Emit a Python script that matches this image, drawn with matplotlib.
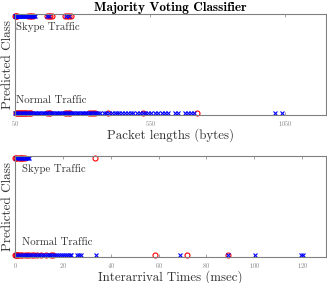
import matplotlib
matplotlib.use("Agg")
import matplotlib.pyplot as plt

plt.rcParams['font.family'] = 'serif'
plt.rcParams['font.serif'] = ['cmr10']
plt.rcParams['axes.formatter.use_mathtext'] = True

# Packet lengths (bytes), y = 1 Skype, y = 0 Normal
len_skype_o = [50, 52, 55, 58, 98, 104, 110, 116, 168, 174, 180, 186, 236, 242, 250, 258]
len_skype_x = [50, 52, 54, 56, 58, 60, 62, 64, 66, 68, 70, 72, 74, 76, 78, 80, 84, 88,
               92, 96, 100, 104, 108, 112, 116, 120, 124, 170, 176, 240, 248]
len_normal_o = [52, 56, 60, 64, 68, 72, 76, 80, 84, 88, 92, 96, 100, 104, 108, 168, 174,
                180, 236, 242, 248, 254, 322, 330, 338, 346, 395, 524, 724]
len_normal_x = [50, 56, 62, 68, 74, 80, 86, 92, 98, 104, 110, 116, 122, 128, 134, 140,
                146, 152, 158, 164, 170, 176, 182, 188, 194, 200, 206, 212, 218, 224,
                230, 236, 242, 248, 254, 260, 266, 272, 278, 284, 290, 296, 302, 308,
                314, 320, 326, 332, 338, 344, 350, 356, 365, 380, 388, 396, 409, 418,
                426, 436, 446, 456, 466, 478, 487, 502, 512, 522, 532, 542, 554, 566,
                580, 592, 604, 617, 643, 653, 680, 690, 700, 710, 1013, 1039]

# Interarrival times (msec)
iat_skype_o = [0, 0.5, 1, 1.5, 2, 2.5, 3, 3.5, 4, 33.3]
iat_skype_x = [0.5, 1, 1.5, 2, 2.5, 3, 3.5, 4, 4.5, 5, 5.5, 6]
iat_normal_o = [0, 0.3, 0.6, 1, 1.4, 1.8, 2.5, 3, 4, 5, 6, 7, 8, 9, 11, 13, 15, 16,
                58.5, 72, 89]
iat_normal_x = [0.5, 1.2, 2, 2.8, 3.6, 4.4, 5.2, 6, 6.8, 7.6, 8.4, 9.2, 10, 10.8, 11.6,
                12.4, 13.2, 14, 14.8, 15.6, 16.4, 17.2, 18, 18.8, 19.6, 20.4, 21.2, 22,
                22.8, 23.5, 25.8, 26.6, 27.5, 34, 69, 89, 100.4, 119.6, 120.2]

len_ticks = [50, 550, 1050]
iat_ticks = [0, 20, 40, 60, 80, 100, 120]

gray = '#808080'
txt = '#333333'

fig = plt.figure(figsize=(3.27, 2.83), dpi=100)
ax1 = fig.add_axes([0.046, 0.594, 0.951, 0.357])
ax2 = fig.add_axes([0.046, 0.092, 0.951, 0.358])


def draw(ax, sk_o, sk_x, no_o, no_x, xlim, ticks, xlabel, tx):
    ax.plot(sk_o, [1] * len(sk_o), 'o', color='red', mfc='none', ms=3.6, mew=0.8, clip_on=False)
    ax.plot(no_o, [0] * len(no_o), 'o', color='red', mfc='none', ms=3.6, mew=0.8, clip_on=False)
    ax.plot(sk_x, [1] * len(sk_x), 'x', color='blue', ms=3.2, mew=0.8, clip_on=False)
    ax.plot(no_x, [0] * len(no_x), 'x', color='blue', ms=3.2, mew=0.8, clip_on=False)
    ax.set_xlim(xlim)
    ax.set_ylim(-0.02, 1.02)
    ax.set_xticks(ticks)
    ax.set_yticks([])
    ax.tick_params(axis='x', direction='in', length=2, width=0.5, labelsize=4.5,
                   colors=gray, top=True, pad=3)
    for s in ax.spines.values():
        s.set_color(gray)
        s.set_linewidth(0.8)
    ax.set_xlabel(xlabel, fontsize=9.3, color=txt, labelpad=0)
    ax.set_ylabel('Predicted Class', fontsize=9.5, color=txt, labelpad=1)
    ax.text(tx, 0.88, 'Skype Traffic', fontsize=7.8, color=txt, ha='left', va='center')
    ax.text(tx, 0.13, 'Normal Traffic', fontsize=7.8, color=txt, ha='left', va='center')


draw(ax1, len_skype_o, len_skype_x, len_normal_o, len_normal_x, (50, 1200), len_ticks,
     'Packet lengths (bytes)', 53)
draw(ax2, iat_skype_o, iat_skype_x, iat_normal_o, iat_normal_x, (0, 130), iat_ticks,
     'Interarrival Times (msec)', 2.8)

ax1.set_title('Majority Voting Classifier', fontsize=9.5, fontfamily='cmb10', pad=2)

fig.savefig('out.png', dpi=100)
